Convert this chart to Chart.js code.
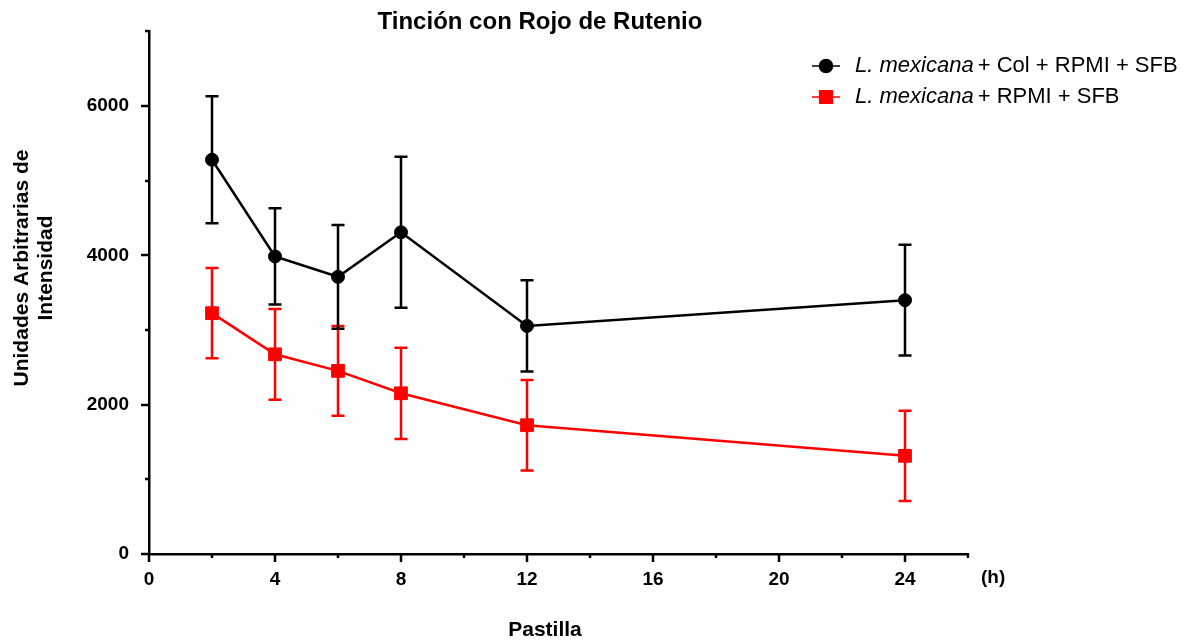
<!DOCTYPE html>
<html>
<head>
<meta charset="utf-8">
<title>Tinción con Rojo de Rutenio</title>
<script src="https://cdn.jsdelivr.net/npm/chart.js@4"></script>
<style>
body{margin:0;background:#fff;}
</style>
</head>
<body>
<canvas id="rutenioChart" width="1187" height="641"></canvas>
<script>
//time points (h)
var hours = [2,4,6,8,12,24];
//L. mexicana + Col + RPMI + SFB (mean and error)
var colMeans = [5281,3986,3713,4309,3055,3400];
var colErr = [851,644,695,1011,611,742];
//L. mexicana + RPMI + SFB (mean and error)
var ctrlMeans = [3226,2675,2453,2153,1725,1315];
var ctrlErr = [604,608,600,611,605,605];
//labelled ticks, the rest are minor
var xTickLabels = [0,4,8,12,16,20,24];
var yTickLabels = [0,2000,4000,6000];
//legend text: italic species + medium
var legendNames = [['L. mexicana',' + Col + RPMI + SFB'],['L. mexicana',' + RPMI + SFB']];

const FONT = '"Liberation Sans", Arial, sans-serif';

//error bars, drawn right before each dataset so the lines sit on top
const errorBars = {
    id:'errorBars',
    beforeDatasetDraw(chart,args){
        const ds = chart.data.datasets[args.index];
        if(!ds.errors) return;
        const ctx = chart.ctx, xs = chart.scales.x, ys = chart.scales.y;
        ctx.save();
        ctx.strokeStyle = ds.borderColor;
        ctx.lineWidth = 2.5;
        ds.data.forEach((p,i)=>{
            let px = xs.getPixelForValue(p.x),
            top = ys.getPixelForValue(p.y + ds.errors[i]),
            bot = ys.getPixelForValue(p.y - ds.errors[i]);
            ctx.beginPath();
            ctx.moveTo(px,top);ctx.lineTo(px,bot);
            ctx.moveTo(px-6.5,top);ctx.lineTo(px+6.5,top);
            ctx.moveTo(px-6.5,bot);ctx.lineTo(px+6.5,bot);
            ctx.stroke();
        })
        ctx.restore();
    }
}

//outside tick marks, long for labelled values and short for the others
const axisTicks = {
    id:'axisTicks',
    afterDraw(chart){
        const ctx = chart.ctx, xs = chart.scales.x, ys = chart.scales.y, area = chart.chartArea;
        ctx.save();
        ctx.strokeStyle = '#000';
        ctx.lineWidth = 2.5;
        xs.ticks.forEach(t=>{
            let px = Math.round(xs.getPixelForValue(t.value)), len = xTickLabels.includes(t.value)?8:4;
            ctx.beginPath();ctx.moveTo(px,area.bottom);ctx.lineTo(px,area.bottom+len);ctx.stroke();
        })
        ys.ticks.forEach(t=>{
            let py = Math.round(ys.getPixelForValue(t.value)), len = yTickLabels.includes(t.value)?8:4;
            ctx.beginPath();ctx.moveTo(area.left,py);ctx.lineTo(area.left-len,py);ctx.stroke();
        })
        ctx.restore();
    }
}

//title, axis titles and the legend (legend needs italic + regular on one line)
const chartText = {
    id:'chartText',
    afterDraw(chart){
        const ctx = chart.ctx;
        ctx.save();
        ctx.fillStyle = '#000';
        ctx.textBaseline = 'middle';
        ctx.textAlign = 'center';
        ctx.font = 'bold 24px '+FONT;
        ctx.fillText('Tinción con Rojo de Rutenio',540,22);
        ctx.font = 'bold 21px '+FONT;
        ctx.fillText('Pastilla',545,630);
        ctx.font = 'bold 19px '+FONT;
        ctx.textAlign = 'left';
        ctx.fillText('(h)',981,578);
        //y title, two lines turned
        ctx.save();
        ctx.translate(22,268);
        ctx.rotate(-Math.PI/2);
        ctx.textAlign = 'center';
        ctx.font = 'bold 21px '+FONT;
        ctx.fillText('Unidades Arbitrarias de',0,0);
        ctx.fillText('Intensidad',0,24);
        ctx.restore();
        //legend
        chart.data.datasets.forEach((ds,i)=>{
            let y = 66 + i*31;
            ctx.strokeStyle = ds.borderColor;
            ctx.fillStyle = ds.borderColor;
            ctx.lineWidth = 1.5;
            ctx.beginPath();ctx.moveTo(812,y);ctx.lineTo(840,y);ctx.stroke();
            Chart.helpers.drawPoint(ctx,{pointStyle:ds.pointStyle,radius:ds.pointRadius,borderWidth:1},826,y);
            ctx.fill();
            ctx.fillStyle = '#000';
            ctx.textAlign = 'left';
            ctx.font = 'italic 22px '+FONT;
            ctx.fillText(legendNames[i][0],855,y);
            let w = ctx.measureText(legendNames[i][0]).width;
            ctx.font = '22px '+FONT;
            ctx.fillText(legendNames[i][1],855+w-2,y);
        })
        ctx.restore();
    }
}

var ctx = document.getElementById('rutenioChart').getContext('2d');
var chart = new Chart(ctx,{
    type:'line',
    data:{
        datasets:[{
            label:legendNames[0].join(''),
            data:hours.map((h,i)=>({x:h,y:colMeans[i]})),
            errors:colErr,
            borderColor:'#000',
            backgroundColor:'#000',
            borderWidth:2.5,
            pointStyle:'circle',
            pointRadius:6.5,
            pointBorderWidth:1,
            tension:0
        },{
            label:legendNames[1].join(''),
            data:hours.map((h,i)=>({x:h,y:ctrlMeans[i]})),
            errors:ctrlErr,
            borderColor:'#ff0000',
            backgroundColor:'#ff0000',
            borderWidth:2.5,
            pointStyle:'rect',
            pointRadius:9,
            pointBorderWidth:1,
            tension:0
        }]
    },
    options:{
        responsive:false,
        animation:false,
        events:[],
        layout:{padding:{left:0,right:219,top:30,bottom:0}},
        plugins:{legend:{display:false},title:{display:false},tooltip:{enabled:false}},
        scales:{
            x:{
                type:'linear',
                min:0,max:26,
                grid:{display:false,drawTicks:false},
                border:{display:true,color:'#000',width:2.5},
                ticks:{
                    stepSize:2,autoSkip:false,maxRotation:0,padding:14,color:'#000',
                    font:{family:FONT,size:19,weight:'bold'},
                    callback:(v)=>xTickLabels.includes(v)?v:''
                },
                afterFit:(s)=>{s.height = 87;}
            },
            y:{
                min:0,max:7000,
                grid:{display:false,drawTicks:false},
                border:{display:true,color:'#000',width:2.5},
                ticks:{
                    stepSize:1000,autoSkip:false,padding:20,color:'#000',
                    font:{family:FONT,size:19,weight:'bold'},
                    callback:(v)=>yTickLabels.includes(v)?v:''
                },
                afterFit:(s)=>{s.width = 149;}
            }
        }
    },
    plugins:[errorBars,axisTicks,chartText]
});
</script>
</body>
</html>
